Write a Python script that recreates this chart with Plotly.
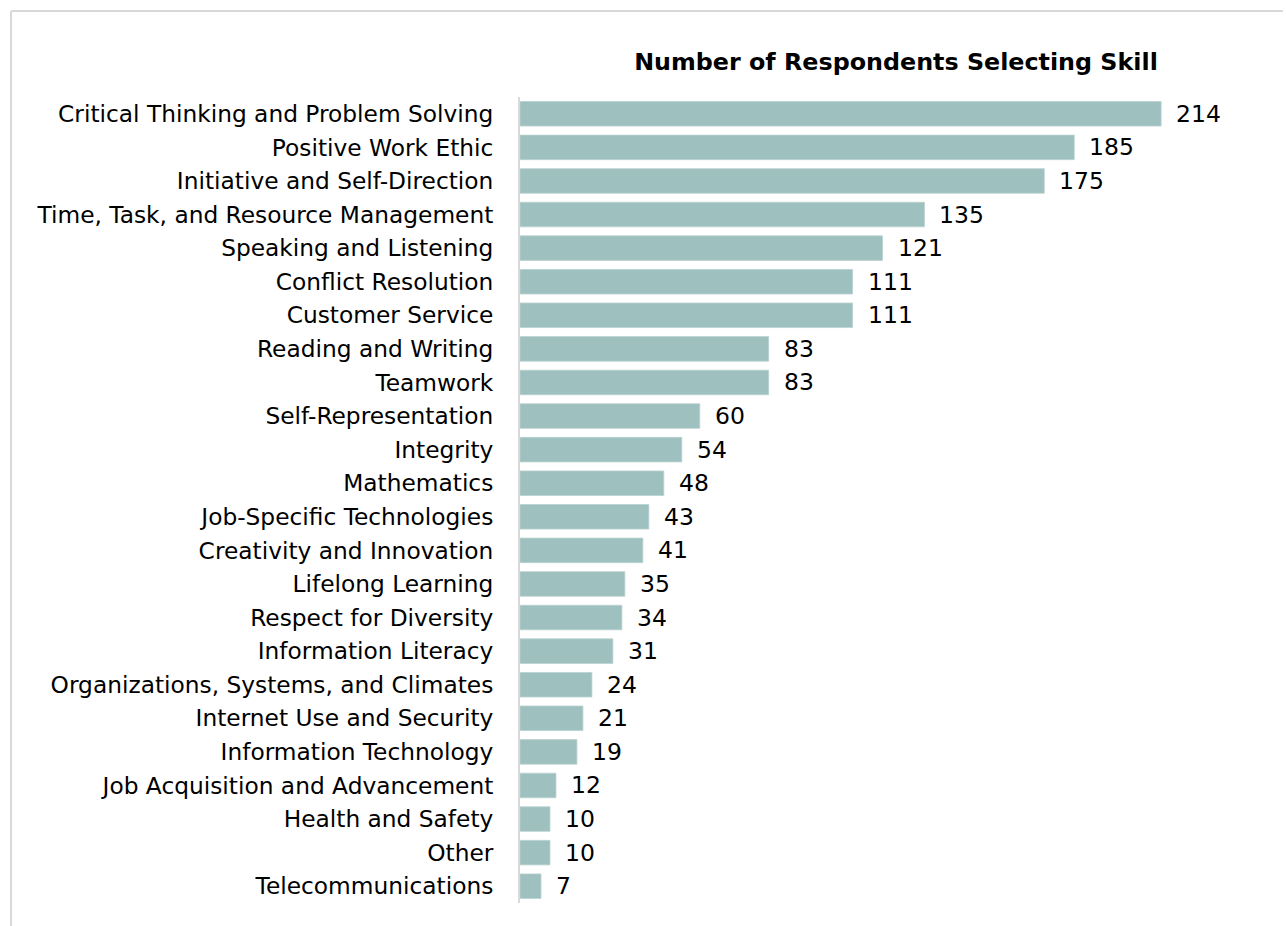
import plotly.graph_objects as go

skills = [
    "Critical Thinking and Problem Solving",
    "Positive Work Ethic",
    "Initiative and Self-Direction",
    "Time, Task, and Resource Management",
    "Speaking and Listening",
    "Conflict Resolution",
    "Customer Service",
    "Reading and Writing",
    "Teamwork",
    "Self-Representation",
    "Integrity",
    "Mathematics",
    "Job-Specific Technologies",
    "Creativity and Innovation",
    "Lifelong Learning",
    "Respect for Diversity",
    "Information Literacy",
    "Organizations, Systems, and Climates",
    "Internet Use and Security",
    "Information Technology",
    "Job Acquisition and Advancement",
    "Health and Safety",
    "Other",
    "Telecommunications",
]
respondents = [214, 185, 175, 135, 121, 111, 111, 83, 83, 60, 54, 48, 43, 41,
               35, 34, 31, 24, 21, 19, 12, 10, 10, 7]

W, H = 1286, 926
ML, MR, MT, MB = 520, 47, 97, 23
PW = W - ML - MR
PH = H - MT - MB
FONT = "DejaVu Sans"

fig = go.Figure()
fig.add_trace(go.Bar(
    x=respondents, y=skills, orientation="h",
    marker=dict(color="#9EC0BF", line=dict(color="#B8D2D1", width=0.8)),
    hoverinfo="skip",
))

for s, v in zip(skills, respondents):
    fig.add_annotation(x=v, y=s, text=str(v), showarrow=False,
                       xanchor="left", yanchor="middle", xshift=13,
                       font=dict(family=FONT, size=23.5, color="#000000"))

def px_to_paper_x(px):
    return (px - ML) / PW

def px_to_paper_y(py):
    return (H - MB - py) / PH

# outer chart border (light gray): only top and left edges are visible
border = dict(color="#D9D9D9", width=2)
fig.add_shape(type="line", xref="paper", yref="paper",
              x0=px_to_paper_x(11), x1=px_to_paper_x(W - 3),
              y0=px_to_paper_y(11), y1=px_to_paper_y(11),
              line=border, layer="below")
fig.add_shape(type="line", xref="paper", yref="paper",
              x0=px_to_paper_x(11), x1=px_to_paper_x(11),
              y0=px_to_paper_y(11), y1=px_to_paper_y(H),
              line=border, layer="below")

fig.update_layout(
    width=W, height=H,
    margin=dict(l=ML, r=MR, t=MT, b=MB),
    paper_bgcolor="white", plot_bgcolor="white",
    bargap=0.27,
    showlegend=False,
    title=dict(text="<b>Number of Respondents Selecting Skill</b>",
               x=px_to_paper_x(896), xref="paper", xanchor="center",
               y=1 - 62 / H, yref="container", yanchor="middle",
               font=dict(family=FONT, size=23.8, color="#000000")),
    xaxis=dict(range=[0, 240], visible=False, fixedrange=True),
    yaxis=dict(autorange="reversed", showline=True, linecolor="#D9D9D9",
               linewidth=2, showgrid=False, zeroline=False, ticks="",
               ticklabelstandoff=20,
               tickfont=dict(family=FONT, size=23.3, color="#000000")),
    font=dict(family=FONT),
)

fig.write_html("out.html")
